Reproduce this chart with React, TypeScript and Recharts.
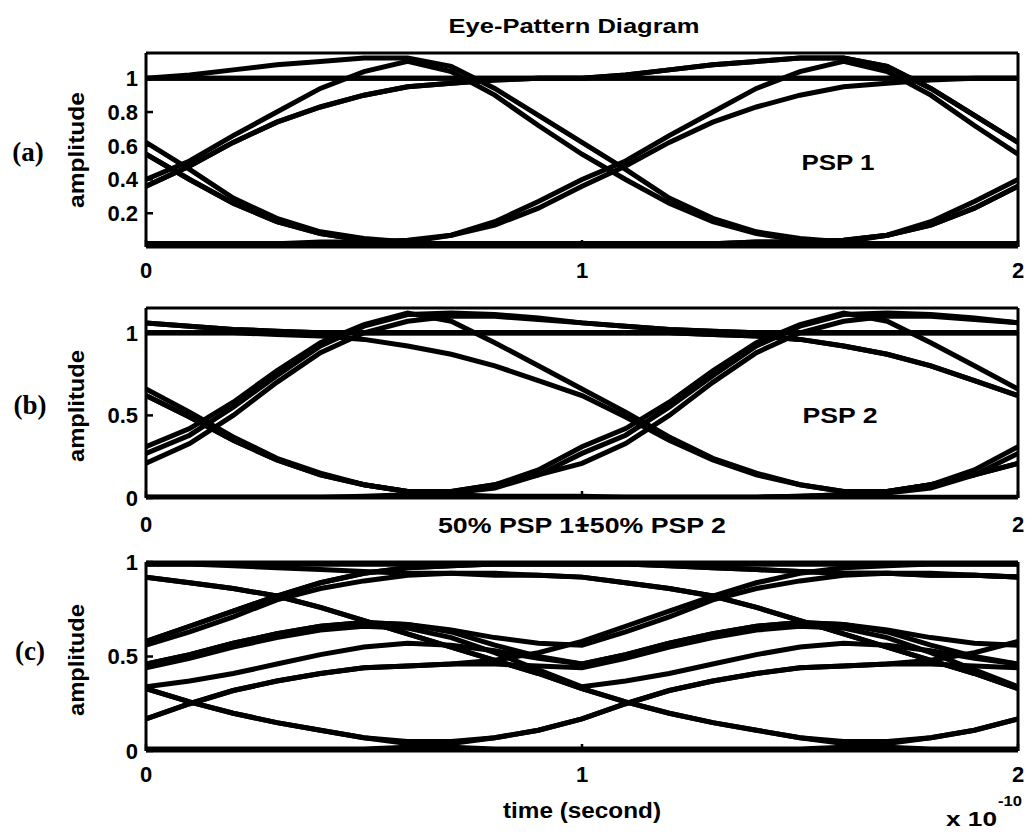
import React from "react";
import { LineChart, Line, XAxis, YAxis } from "recharts";

// time axis, units of 1e-10 s
const T = [0, 0.1, 0.2, 0.3, 0.4, 0.5, 0.6, 0.7, 0.8, 0.9, 1, 1.1, 1.2, 1.3, 1.4, 1.5, 1.6, 1.7, 1.8, 1.9, 2];
const X_TICKS = [0, 1, 2];

// (a) PSP 1 - one bit period each (t = 0 .. 1)
const A_RISE_PEAK = [0.4, 0.51, 0.66, 0.8, 0.94, 1.04, 1.1, 1.04, 0.9, 0.72, 0.55];
const A_RISE_HOLD = [0.36, 0.48, 0.62, 0.74, 0.83, 0.9, 0.95, 0.97, 0.99, 1.0, 1.0];
const A_HIGH_PEAK = [1.0, 1.02, 1.05, 1.08, 1.1, 1.12, 1.12, 1.07, 0.94, 0.78, 0.62];
const A_FALL_RISE = [0.62, 0.46, 0.29, 0.17, 0.09, 0.05, 0.03, 0.07, 0.15, 0.27, 0.4];
const A_FALL_LOW = [0.55, 0.4, 0.26, 0.15, 0.08, 0.04, 0.02, 0.02, 0.02, 0.02, 0.02];
const A_HIGH = [1.0, 1.0, 1.0, 1.0, 1.0, 1.0, 1.0, 1.0, 1.0, 1.0, 1.0];
const A_LOW = [0.02, 0.02, 0.02, 0.02, 0.02, 0.02, 0.02, 0.02, 0.02, 0.02, 0.02];
const A_LOW_RISE = [0.02, 0.02, 0.02, 0.02, 0.03, 0.03, 0.04, 0.07, 0.13, 0.23, 0.36];
const A_Y_TICKS = [0.2, 0.4, 0.6, 0.8, 1];

const A_TRACES = [
  [A_RISE_PEAK, A_FALL_LOW],
  [A_RISE_HOLD, A_HIGH],
  [A_RISE_HOLD, A_HIGH_PEAK],
  [A_FALL_RISE, A_RISE_PEAK],
  [A_FALL_LOW, A_LOW_RISE],
  [A_HIGH, A_HIGH_PEAK],
  [A_HIGH_PEAK, A_FALL_RISE],
  [A_LOW, A_LOW_RISE],
  [A_LOW_RISE, A_RISE_HOLD],
  [A_HIGH, A_HIGH],
  [A_LOW, A_LOW],
  [A_FALL_LOW, A_LOW],
];

// (b) PSP 2
const B_RISE_PEAK = [0.31, 0.42, 0.58, 0.77, 0.94, 1.05, 1.12, 1.07, 0.94, 0.8, 0.66];
const B_RISE_HOLD = [0.27, 0.38, 0.55, 0.74, 0.92, 1.04, 1.11, 1.12, 1.11, 1.09, 1.06];
const B_RISE_SLOW = [0.21, 0.33, 0.5, 0.7, 0.88, 1.0, 1.07, 1.1, 1.1, 1.08, 1.06];
const B_FALL_RISE = [0.66, 0.52, 0.37, 0.24, 0.15, 0.08, 0.04, 0.04, 0.08, 0.17, 0.31];
const B_FALL_RISE2 = [0.62, 0.49, 0.35, 0.23, 0.14, 0.08, 0.04, 0.03, 0.06, 0.14, 0.27];
const B_FALL_LOW = [0.62, 0.49, 0.35, 0.23, 0.14, 0.08, 0.04, 0.02, 0.01, 0.01, 0.01];
const B_HIGH_DECAY = [1.06, 1.04, 1.02, 1.01, 1.0, 1.0, 1.0, 1.0, 1.0, 1.0, 1.0];
const B_HIGH = [1.0, 1.0, 1.0, 1.0, 1.0, 1.0, 1.0, 1.0, 1.0, 1.0, 1.0];
const B_HIGH_SAG = [1.0, 1.0, 1.0, 0.99, 0.98, 0.96, 0.92, 0.87, 0.8, 0.71, 0.62];
const B_LOW = [0.005, 0.005, 0.005, 0.005, 0.005, 0.005, 0.005, 0.005, 0.005, 0.005, 0.005];
const B_LOW_RISE = [0.005, 0.005, 0.005, 0.005, 0.005, 0.01, 0.02, 0.04, 0.08, 0.14, 0.21];
const B_Y_TICKS = [0, 0.5, 1];

const B_TRACES = [
  [B_RISE_PEAK, B_FALL_RISE],
  [B_RISE_HOLD, B_HIGH_DECAY],
  [B_RISE_SLOW, B_HIGH_DECAY],
  [B_FALL_RISE, B_RISE_PEAK],
  [B_FALL_RISE2, B_RISE_HOLD],
  [B_FALL_LOW, B_LOW_RISE],
  [B_HIGH_DECAY, B_HIGH_SAG],
  [B_HIGH, B_HIGH],
  [B_HIGH, B_HIGH_SAG],
  [B_LOW, B_LOW],
  [B_LOW, B_LOW_RISE],
  [B_LOW_RISE, B_RISE_SLOW],
  [B_HIGH_SAG, B_FALL_RISE2],
  [B_HIGH_DECAY, B_HIGH],
];

// (c) 50% PSP 1 + 50% PSP 2
const C_TOP = [0.99, 0.99, 0.99, 0.99, 0.99, 0.99, 0.99, 0.99, 0.99, 0.99, 0.99];
const C_TOP_FALL = [0.99, 0.99, 0.98, 0.97, 0.96, 0.95, 0.94, 0.94, 0.93, 0.93, 0.92];
const C_RISE_TOP = [0.58, 0.66, 0.74, 0.82, 0.89, 0.94, 0.97, 0.98, 0.99, 0.99, 0.99];
const C_RISE_HIGH = [0.56, 0.63, 0.71, 0.8, 0.86, 0.9, 0.93, 0.94, 0.94, 0.93, 0.92];
const C_HIGH_FALL = [0.92, 0.89, 0.86, 0.82, 0.76, 0.69, 0.62, 0.55, 0.48, 0.41, 0.33];
const C_FALL_ZERO = [0.33, 0.26, 0.2, 0.15, 0.11, 0.07, 0.04, 0.02, 0.01, 0.01, 0.01];
const C_FALL_BOUNCE = [0.33, 0.26, 0.2, 0.15, 0.11, 0.07, 0.05, 0.05, 0.07, 0.11, 0.17];
const C_ZERO = [0.005, 0.005, 0.005, 0.005, 0.005, 0.005, 0.005, 0.005, 0.005, 0.005, 0.005];
const C_ZERO_RISE = [0.01, 0.01, 0.01, 0.01, 0.01, 0.01, 0.02, 0.04, 0.07, 0.11, 0.17];
const C_LOW_MID = [0.17, 0.25, 0.32, 0.37, 0.41, 0.44, 0.45, 0.46, 0.46, 0.45, 0.44];
const C_LOW_MID_UP = [0.17, 0.25, 0.32, 0.37, 0.41, 0.44, 0.45, 0.46, 0.48, 0.52, 0.58];
const C_MID_HUMP = [0.46, 0.51, 0.57, 0.62, 0.66, 0.68, 0.67, 0.63, 0.56, 0.5, 0.46];
const C_MID_HUMP_DOWN = [0.44, 0.49, 0.55, 0.6, 0.64, 0.66, 0.65, 0.6, 0.52, 0.43, 0.34];
const C_MID_HUMP_UP = [0.46, 0.51, 0.57, 0.62, 0.66, 0.68, 0.67, 0.64, 0.6, 0.57, 0.56];
const C_LOW_HUMP = [0.34, 0.37, 0.41, 0.46, 0.51, 0.55, 0.57, 0.56, 0.53, 0.49, 0.46];
const C_Y_TICKS = [0, 0.5, 1];

const C_TRACES = [
  [C_TOP, C_TOP],
  [C_TOP, C_TOP_FALL],
  [C_TOP_FALL, C_HIGH_FALL],
  [C_HIGH_FALL, C_FALL_ZERO],
  [C_HIGH_FALL, C_FALL_BOUNCE],
  [C_RISE_TOP, C_TOP],
  [C_RISE_TOP, C_TOP_FALL],
  [C_RISE_HIGH, C_HIGH_FALL],
  [C_FALL_ZERO, C_ZERO_RISE],
  [C_FALL_BOUNCE, C_LOW_MID],
  [C_LOW_MID, C_MID_HUMP_DOWN],
  [C_LOW_MID_UP, C_RISE_TOP],
  [C_MID_HUMP, C_MID_HUMP_UP],
  [C_MID_HUMP_DOWN, C_LOW_HUMP],
  [C_LOW_HUMP, C_MID_HUMP],
  [C_ZERO, C_ZERO],
  [C_ZERO_RISE, C_LOW_MID_UP],
  [C_MID_HUMP_UP, C_RISE_HIGH],
];

// glue two periods into one row table for recharts
const buildRows = (traces: number[][][]) =>
  T.map((t, i) => {
    const row: Record<string, number> = { t };
    traces.forEach(([first, second], k) => {
      row[`s${k}`] = i <= 10 ? first[i] : second[i - 10];
    });
    return row;
  });

const FONT = "'Liberation Sans', Arial, Helvetica, sans-serif";
const axisLine = { stroke: "#000", strokeWidth: 3 };
const tickLine = { stroke: "#000", strokeWidth: 2.5 };
const tickText = { fill: "#000", fontSize: 22, fontWeight: 700, fontFamily: FONT };

interface PanelProps {
  plotTop: number;
  plotBottom: number;
  traces: number[][][];
  yMax: number;
  yTicks: number[];
  xLabelGap: number;
}

const Panel: React.FC<PanelProps> = ({ plotTop, plotBottom, traces, yMax, yTicks, xLabelGap }) => {
  const rows = buildRows(traces);
  const h = plotBottom - plotTop;
  return (
    <div style={{ position: "absolute", left: 0, top: plotTop - 21 }}>
      <LineChart width={1034} height={h + 21 + 43} data={rows} margin={{ top: 20, right: 15, bottom: 0, left: 86 }}>
        <XAxis
          xAxisId="b"
          dataKey="t"
          type="number"
          domain={[0, 2]}
          ticks={X_TICKS}
          interval={0}
          height={43}
          tickSize={-7}
          tickMargin={xLabelGap}
          axisLine={axisLine}
          tickLine={tickLine}
          tick={tickText}
          allowDataOverflow
        />
        <XAxis
          xAxisId="t"
          orientation="top"
          dataKey="t"
          type="number"
          domain={[0, 2]}
          ticks={X_TICKS}
          height={1}
          tickSize={-8}
          axisLine={axisLine}
          tickLine={tickLine}
          tick={false}
          allowDataOverflow
        />
        <YAxis
          yAxisId="l"
          type="number"
          domain={[0, yMax]}
          ticks={yTicks}
          interval={0}
          width={60}
          tickSize={-7}
          tickMargin={15}
          axisLine={axisLine}
          tickLine={tickLine}
          tick={tickText}
          allowDataOverflow
        />
        <YAxis
          yAxisId="r"
          orientation="right"
          type="number"
          domain={[0, yMax]}
          ticks={yTicks}
          width={1}
          tickSize={-8}
          axisLine={axisLine}
          tickLine={tickLine}
          tick={false}
          allowDataOverflow
        />
        {traces.map((_, k) => (
          <Line
            key={k}
            xAxisId="b"
            yAxisId="l"
            dataKey={`s${k}`}
            type="linear"
            stroke="#000"
            strokeWidth={5}
            dot={false}
            activeDot={false}
            isAnimationActive={false}
          />
        ))}
      </LineChart>
    </div>
  );
};

export default function App() {
  const sans = { fontFamily: FONT, fontWeight: 700, fill: "#000" };
  const serif = { fontFamily: "'Liberation Serif', 'Times New Roman', serif", fontWeight: 700, fill: "#000" };
  return (
    <div style={{ position: "absolute", left: 0, top: 0, width: 1034, height: 836, background: "#fff" }}>
      <Panel plotTop={53} plotBottom={247} traces={A_TRACES} yMax={1.15} yTicks={A_Y_TICKS} xLabelGap={22} />
      <Panel plotTop={308} plotBottom={498} traces={B_TRACES} yMax={1.15} yTicks={B_Y_TICKS} xLabelGap={25} />
      <Panel plotTop={562} plotBottom={751} traces={C_TRACES} yMax={1} yTicks={C_Y_TICKS} xLabelGap={22} />

      <svg width={1034} height={836} style={{ position: "absolute", left: 0, top: 0, pointerEvents: "none" }}>
        <text x={574} y={33} textAnchor="middle" fontSize={21} textLength={251} lengthAdjust="spacingAndGlyphs" {...sans}>
          Eye-Pattern Diagram
        </text>

        <text x={28} y={161} textAnchor="middle" fontSize={27} {...serif}>(a)</text>
        <text x={30} y={414} textAnchor="middle" fontSize={27} {...serif}>(b)</text>
        <text x={30} y={660} textAnchor="middle" fontSize={27} {...serif}>(c)</text>

        <text x={84} y={150} transform="rotate(-90 84 150)" textAnchor="middle" fontSize={22} textLength={116} lengthAdjust="spacingAndGlyphs" {...sans}>
          amplitude
        </text>
        <text x={84} y={406} transform="rotate(-90 84 406)" textAnchor="middle" fontSize={22} textLength={112} lengthAdjust="spacingAndGlyphs" {...sans}>
          amplitude
        </text>
        <text x={84} y={660} transform="rotate(-90 84 660)" textAnchor="middle" fontSize={22} textLength={112} lengthAdjust="spacingAndGlyphs" {...sans}>
          amplitude
        </text>

        <text x={838} y={170} textAnchor="middle" fontSize={22} textLength={73} lengthAdjust="spacingAndGlyphs" {...sans}>PSP 1</text>
        <text x={840} y={423} textAnchor="middle" fontSize={22} textLength={75} lengthAdjust="spacingAndGlyphs" {...sans}>PSP 2</text>

        <text x={582} y={533} textAnchor="middle" fontSize={22} textLength={288} lengthAdjust="spacingAndGlyphs" {...sans}>
          50% PSP 1+50% PSP 2
        </text>

        <text x={582} y={818} textAnchor="middle" fontSize={22} textLength={158} lengthAdjust="spacingAndGlyphs" {...sans}>
          time (second)
        </text>
        <text x={946} y={826} fontSize={21} textLength={51} lengthAdjust="spacingAndGlyphs" {...sans}>x 10</text>
        <text x={998} y={806} fontSize={14} textLength={24} lengthAdjust="spacingAndGlyphs" {...sans}>-10</text>
      </svg>
    </div>
  );
}
